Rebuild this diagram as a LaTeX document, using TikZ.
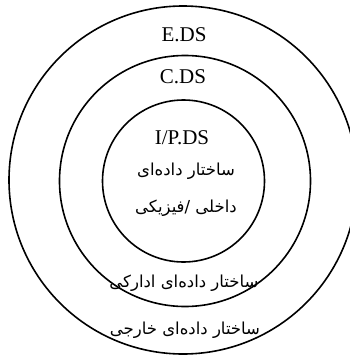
\documentclass[tikz,border=0pt]{standalone}
\usepackage{fontspec}
\setmainfont{Liberation Serif}
\newfontfamily\arabicfont[Script=Arabic]{DejaVu Sans}
\TeXXeTstate=1
\begin{document}
\begin{tikzpicture}[x=1pt,y=-1pt,
  ring/.style={draw,circle,line width=1.6pt,inner sep=0pt},
  lat/.style={font=\fontsize{21}{23}\selectfont,inner sep=0pt},
  fa/.style={font=\arabicfont\fontsize{16.5}{18}\selectfont,inner sep=0pt}]
\useasboundingbox (0,0) rectangle (349,356);
\node[ring,minimum size=348pt] (outer) at (183,180) {};
\node[ring,minimum size=251pt] (middle) at (185,181) {};
\node[ring,minimum size=162pt] (inner) at (183.5,181) {};
\node[lat] (eds) at (184,35) {E.DS};
\node[lat] (cds) at (183,77) {C.DS};
\node[lat] (ipds) at (182,138) {I/P.DS};
\node[fa] (p1) at (186,171) {\beginR ساختار داده‌ای\endR};
\node[fa] (p2) at (186,208) {\beginR داخلی /فیزیکی\endR};
\node[fa] (p3) at (184,283) {\beginR ساختار داده‌ای ادارکی\endR};
\node[fa] (p4) at (185,330) {\beginR ساختار داده‌ای خارجی\endR};
\end{tikzpicture}
\end{document}
